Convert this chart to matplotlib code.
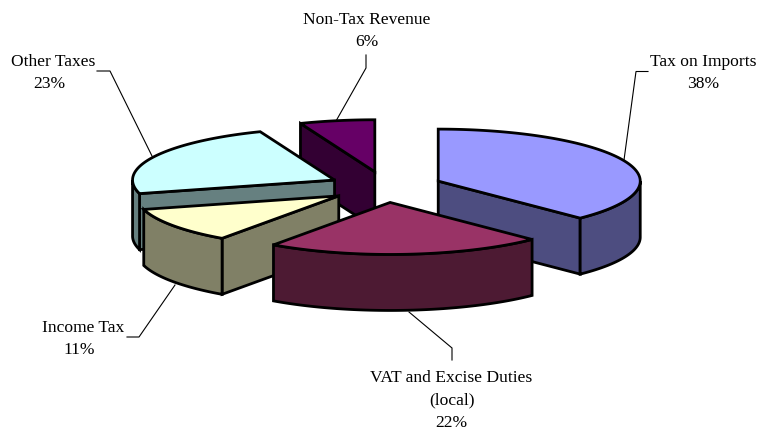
import numpy as np
import matplotlib
matplotlib.use("Agg")
import matplotlib.pyplot as plt
from matplotlib.patches import Polygon

categories = ["Tax on Imports", "VAT and Excise Duties\n(local)", "Income Tax", "Other Taxes", "Non-Tax Revenue"]
values = [37.6, 22.2, 11.0, 23.2, 6.0]
top_colors = ["#9999FF", "#993366", "#FFFFCC", "#CCFFFF", "#660066"]
side_colors = ["#4D4D80", "#4D1A33", "#808066", "#668080", "#330033"]
draw_order = [4, 3, 2, 0, 1]
name_x = [703, 451.5, 83.5, 53.5, 367]
pct_x = [703, 451.5, 79.5, 49, 366.5]
first_baseline = [66, 382, 332, 66, 24]
leaders = [
    [(648, 71.5), (636, 71.5), (624, 160)],
    [(409, 312), (452, 348), (452, 360)],
    [(127, 337), (139, 337), (175, 285)],
    [(97, 71), (110, 71), (152, 156)],
    [(366, 55), (366, 68), (336, 121)],
]

BASE = (385.5, 187.0)
RX, RY, DEPTH = 202.0, 52.0, 56.0
EXPL_X, EXPL_Y = 57.0, 15.5
LW = 2.0
LINE_STEP = 22.4

plt.rcParams["font.family"] = ["Liberation Serif", "DejaVu Serif"]
fig = plt.figure(figsize=(7.58, 4.30), dpi=100)
ax = fig.add_axes([0, 0, 1, 1])
ax.set_xlim(0, 758)
ax.set_ylim(430, 0)
ax.axis("off")

def rim(cx, cy, angles):
    return np.column_stack([cx + RX * np.sin(angles), cy - RY * np.cos(angles)])

def face(pts, color, z, lw=LW):
    ax.add_patch(Polygon(pts, closed=True, facecolor=color, edgecolor="black",
                         linewidth=lw, joinstyle="miter", zorder=z))

total = sum(values)
edges = np.radians(np.concatenate([[0], np.cumsum(values)]) / total * 360.0)

z = 2
for i in draw_order:
    a0, a1 = edges[i], edges[i + 1]
    mid = (a0 + a1) / 2
    cx = BASE[0] + EXPL_X * np.sin(mid)
    cy = BASE[1] - EXPL_Y * np.cos(mid)
    apex = np.array([cx, cy])
    down = np.array([0, DEPTH])
    t = np.linspace(a0, a1, 120)
    arc = rim(cx, cy, t)
    # cut faces, only those turned towards the viewer
    for a, visible in ((a0, np.sin(a0) < -1e-9), (a1, np.sin(a1) > 1e-9)):
        if visible:
            p = rim(cx, cy, np.array([a]))[0]
            face([apex, p, p + down, apex + down], side_colors[i], z)
            z += 1
    # outer wall: the part of the rim on the near half of the ellipse
    lo, hi = max(a0, np.pi / 2), min(a1, 3 * np.pi / 2)
    if hi > lo:
        w = rim(cx, cy, np.linspace(lo, hi, 120))
        face(np.vstack([w, (w + down)[::-1]]), side_colors[i], z)
        z += 1
    face(np.vstack([apex, arc]), top_colors[i], z)
    z += 1

for pts in leaders:
    xs, ys = zip(*pts)
    ax.plot(xs, ys, color="black", lw=0.8, zorder=1, solid_joinstyle="miter")

for name, v, nx, px, by in zip(categories, values, name_x, pct_x, first_baseline):
    lines = name.split("\n")
    for k, line in enumerate(lines):
        ax.text(nx, by + k * LINE_STEP, line, ha="center", va="baseline",
                fontsize=12.6, color="black", zorder=50)
    ax.text(px, by + len(lines) * LINE_STEP, f"{round(v / total * 100)}%", ha="center",
            va="baseline", fontsize=12.6, color="black", zorder=50)

fig.savefig("out.png", dpi=100, facecolor="white")
